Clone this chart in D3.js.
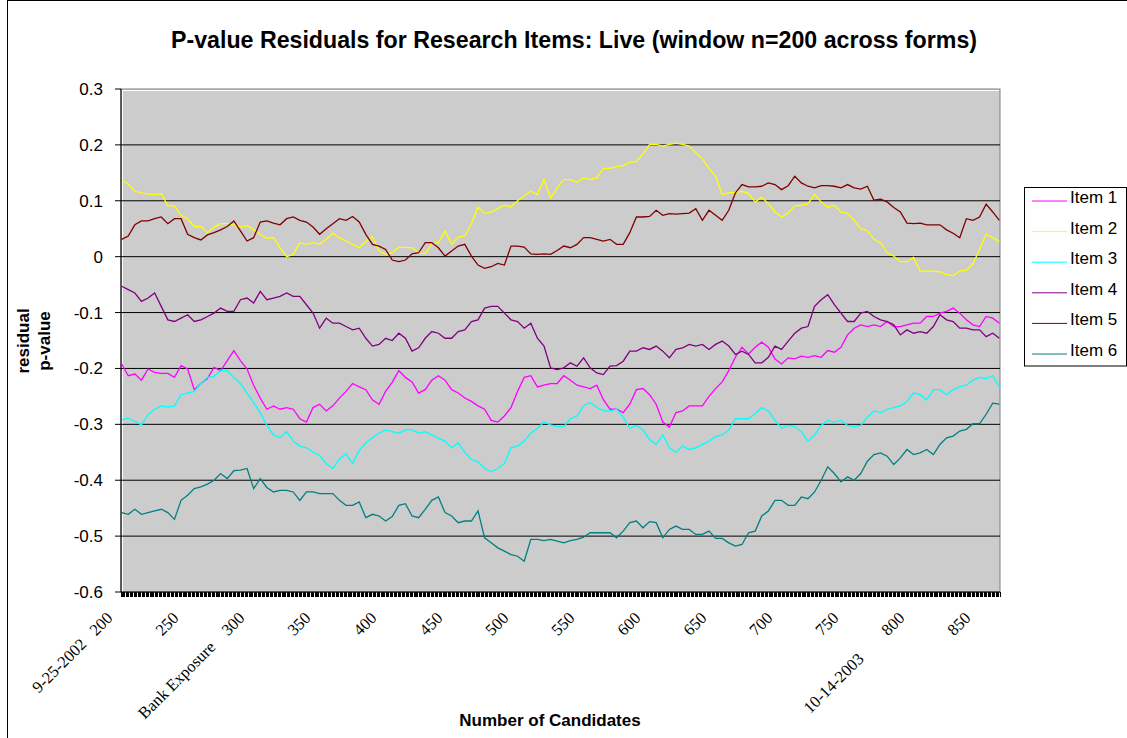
<!DOCTYPE html>
<html>
<head>
<meta charset="utf-8">
<script src="https://cdn.jsdelivr.net/npm/d3@7"></script>
<style>
  html, body { margin: 0; padding: 0; background: #ffffff; }
  svg { display: block; }
  .sans { font-family: "Liberation Sans", Arial, sans-serif; }
  .serif { font-family: "Liberation Serif", "Times New Roman", serif; }
</style>
</head>
<body>
<svg id="chart" width="1127" height="738"></svg>
<script>
// Sampled candidate counts (every 5th candidate of the moving window)
const candidates = [
  200,205,210,215,220,225,230,235,240,245,250,255,260,265,270,275,280,285,290,295,
  300,305,310,315,320,325,330,335,340,345,350,355,360,365,370,375,380,385,390,395,
  400,405,410,415,420,425,430,435,440,445,450,455,460,465,470,475,480,485,490,495,
  500,505,510,515,520,525,530,535,540,545,550,555,560,565,570,575,580,585,590,595,
  600,605,610,615,620,625,630,635,640,645,650,655,660,665,670,675,680,685,690,695,
  700,705,710,715,720,725,730,735,740,745,750,755,760,765,770,775,780,785,790,795,
  800,805,810,815,820,825,830,835,840,845,850,855,860,865
];

// Residual p-values per item
const item1 = [
  -0.192,-0.213,-0.210,-0.221,-0.201,-0.207,-0.209,-0.209,-0.216,-0.195,-0.201,-0.238,-0.227,-0.218,-0.198,-0.204,-0.186,-0.168,-0.186,-0.201,
  -0.230,-0.253,-0.273,-0.267,-0.273,-0.270,-0.273,-0.290,-0.296,-0.270,-0.264,-0.276,-0.267,-0.253,-0.241,-0.227,-0.233,-0.238,-0.256,-0.264,
  -0.241,-0.225,-0.204,-0.216,-0.224,-0.244,-0.238,-0.221,-0.213,-0.221,-0.238,-0.244,-0.253,-0.259,-0.267,-0.273,-0.293,-0.296,-0.285,-0.270,
  -0.241,-0.216,-0.213,-0.233,-0.230,-0.227,-0.227,-0.213,-0.221,-0.230,-0.233,-0.236,-0.230,-0.256,-0.273,-0.273,-0.279,-0.264,-0.238,-0.236,
  -0.247,-0.264,-0.296,-0.305,-0.279,-0.276,-0.267,-0.267,-0.267,-0.250,-0.236,-0.224,-0.204,-0.180,-0.162,-0.174,-0.162,-0.153,-0.162,-0.183,
  -0.192,-0.181,-0.183,-0.178,-0.180,-0.177,-0.180,-0.168,-0.171,-0.162,-0.140,-0.128,-0.122,-0.125,-0.122,-0.125,-0.116,-0.125,-0.125,-0.122,
  -0.119,-0.119,-0.107,-0.107,-0.101,-0.098,-0.092,-0.101,-0.113,-0.122,-0.125,-0.107,-0.110,-0.119
];
const item2 = [
  0.138,0.129,0.117,0.114,0.112,0.111,0.113,0.091,0.091,0.074,0.068,0.054,0.054,0.043,0.053,0.059,0.059,0.057,0.053,0.056,
  0.048,0.040,0.033,0.034,0.016,0.000,0.004,0.025,0.022,0.025,0.022,0.031,0.042,0.034,0.028,0.022,0.016,0.027,0.036,0.010,
  0.004,0.007,0.017,0.016,0.016,0.007,0.005,0.023,0.025,0.046,0.022,0.035,0.037,0.059,0.089,0.077,0.080,0.086,0.092,0.089,
  0.100,0.109,0.117,0.111,0.138,0.105,0.123,0.138,0.138,0.133,0.141,0.138,0.141,0.158,0.158,0.161,0.163,0.169,0.170,0.184,
  0.201,0.201,0.198,0.201,0.203,0.201,0.198,0.186,0.175,0.158,0.144,0.111,0.114,0.115,0.117,0.113,0.098,0.106,0.095,0.080,
  0.071,0.078,0.091,0.092,0.095,0.111,0.098,0.088,0.092,0.080,0.077,0.065,0.050,0.046,0.031,0.025,0.007,0.001,-0.009,-0.009,
  -0.001,-0.026,-0.026,-0.026,-0.027,-0.032,-0.034,-0.026,-0.024,-0.013,0.013,0.040,0.034,0.027
];
const item3 = [
  -0.292,-0.289,-0.295,-0.301,-0.283,-0.273,-0.267,-0.269,-0.267,-0.247,-0.244,-0.241,-0.227,-0.216,-0.214,-0.204,-0.204,-0.216,-0.227,-0.244,
  -0.261,-0.279,-0.302,-0.319,-0.324,-0.313,-0.330,-0.339,-0.342,-0.350,-0.356,-0.370,-0.379,-0.362,-0.353,-0.370,-0.347,-0.333,-0.324,-0.316,
  -0.310,-0.313,-0.316,-0.310,-0.310,-0.316,-0.313,-0.319,-0.325,-0.330,-0.342,-0.333,-0.350,-0.363,-0.367,-0.379,-0.385,-0.379,-0.370,-0.342,
  -0.339,-0.330,-0.316,-0.307,-0.296,-0.301,-0.304,-0.304,-0.290,-0.285,-0.267,-0.261,-0.270,-0.276,-0.276,-0.273,-0.287,-0.307,-0.302,-0.310,
  -0.327,-0.336,-0.319,-0.342,-0.350,-0.339,-0.345,-0.342,-0.336,-0.330,-0.322,-0.319,-0.310,-0.290,-0.290,-0.290,-0.281,-0.270,-0.276,-0.293,
  -0.307,-0.302,-0.304,-0.313,-0.330,-0.319,-0.302,-0.293,-0.296,-0.293,-0.302,-0.304,-0.302,-0.287,-0.276,-0.279,-0.273,-0.270,-0.267,-0.259,
  -0.244,-0.247,-0.256,-0.238,-0.238,-0.247,-0.238,-0.233,-0.230,-0.221,-0.216,-0.218,-0.213,-0.233
];
const item4 = [
  -0.053,-0.059,-0.065,-0.080,-0.074,-0.065,-0.089,-0.113,-0.116,-0.110,-0.104,-0.116,-0.113,-0.107,-0.101,-0.092,-0.098,-0.098,-0.077,-0.074,
  -0.083,-0.062,-0.077,-0.074,-0.071,-0.065,-0.071,-0.071,-0.086,-0.101,-0.128,-0.110,-0.119,-0.119,-0.125,-0.131,-0.128,-0.146,-0.160,-0.157,
  -0.146,-0.150,-0.137,-0.146,-0.169,-0.163,-0.146,-0.134,-0.137,-0.146,-0.146,-0.134,-0.131,-0.116,-0.113,-0.092,-0.089,-0.089,-0.101,-0.113,
  -0.116,-0.128,-0.119,-0.146,-0.160,-0.199,-0.202,-0.199,-0.190,-0.196,-0.181,-0.199,-0.208,-0.211,-0.196,-0.195,-0.187,-0.169,-0.169,-0.163,
  -0.166,-0.160,-0.169,-0.181,-0.166,-0.163,-0.157,-0.160,-0.157,-0.166,-0.157,-0.151,-0.160,-0.175,-0.169,-0.175,-0.190,-0.190,-0.180,-0.160,
  -0.166,-0.151,-0.137,-0.128,-0.125,-0.089,-0.077,-0.068,-0.086,-0.101,-0.116,-0.116,-0.101,-0.098,-0.107,-0.113,-0.116,-0.122,-0.140,-0.131,
  -0.137,-0.134,-0.137,-0.125,-0.104,-0.113,-0.116,-0.128,-0.128,-0.131,-0.131,-0.143,-0.137,-0.146
];
const item5 = [
  0.031,0.037,0.057,0.064,0.064,0.068,0.071,0.059,0.068,0.068,0.040,0.034,0.030,0.039,0.043,0.048,0.054,0.064,0.046,0.028,
  0.034,0.062,0.064,0.060,0.057,0.068,0.071,0.065,0.062,0.053,0.040,0.050,0.059,0.068,0.065,0.072,0.062,0.040,0.022,0.019,
  0.013,-0.006,-0.009,-0.006,0.005,0.007,0.025,0.025,0.016,0.001,0.010,0.019,0.022,0.001,-0.015,-0.021,-0.018,-0.012,-0.015,0.019,
  0.019,0.017,0.005,0.004,0.005,0.004,0.011,0.019,0.016,0.022,0.034,0.034,0.031,0.028,0.031,0.022,0.022,0.043,0.071,0.071,
  0.072,0.083,0.074,0.077,0.076,0.077,0.078,0.086,0.065,0.083,0.074,0.065,0.083,0.114,0.129,0.125,0.125,0.126,0.132,0.129,
  0.120,0.127,0.144,0.132,0.126,0.123,0.127,0.127,0.126,0.123,0.129,0.123,0.121,0.126,0.101,0.103,0.098,0.088,0.080,0.060,
  0.059,0.060,0.057,0.057,0.057,0.048,0.042,0.034,0.068,0.065,0.071,0.094,0.080,0.065
];
const item6 = [
  -0.458,-0.461,-0.452,-0.461,-0.458,-0.455,-0.452,-0.458,-0.470,-0.436,-0.427,-0.415,-0.412,-0.407,-0.400,-0.388,-0.397,-0.383,-0.382,-0.379,
  -0.415,-0.397,-0.413,-0.421,-0.418,-0.418,-0.421,-0.436,-0.421,-0.421,-0.424,-0.424,-0.424,-0.436,-0.445,-0.445,-0.439,-0.467,-0.461,-0.464,
  -0.473,-0.465,-0.445,-0.442,-0.464,-0.467,-0.452,-0.436,-0.430,-0.458,-0.464,-0.476,-0.473,-0.473,-0.455,-0.503,-0.512,-0.521,-0.527,-0.533,
  -0.536,-0.545,-0.506,-0.506,-0.508,-0.506,-0.509,-0.512,-0.508,-0.506,-0.502,-0.494,-0.494,-0.494,-0.494,-0.503,-0.491,-0.476,-0.473,-0.485,
  -0.474,-0.476,-0.503,-0.488,-0.482,-0.488,-0.488,-0.497,-0.497,-0.491,-0.504,-0.504,-0.512,-0.518,-0.515,-0.494,-0.491,-0.464,-0.455,-0.436,
  -0.436,-0.445,-0.445,-0.430,-0.433,-0.421,-0.400,-0.376,-0.388,-0.403,-0.394,-0.400,-0.388,-0.366,-0.354,-0.351,-0.357,-0.372,-0.360,-0.345,
  -0.354,-0.351,-0.345,-0.354,-0.336,-0.324,-0.321,-0.312,-0.309,-0.299,-0.299,-0.282,-0.262,-0.264
];

const seriesNames = ["Item 1", "Item 2", "Item 3", "Item 4", "Item 5", "Item 6"];
const seriesValues = [item1, item2, item3, item4, item5, item6];
const seriesColors = ["#FF00FF", "#FFFF00", "#00FFFF", "#800080", "#800000", "#008080"];

const yTickValues = [0.3, 0.2, 0.1, 0, -0.1, -0.2, -0.3, -0.4, -0.5, -0.6];
const yTickLabels = ["0.3", "0.2", "0.1", "0", "-0.1", "-0.2", "-0.3", "-0.4", "-0.5", "-0.6"];

const xLabelValues = [200, 250, 300, 350, 400, 450, 500, 550, 600, 650, 700, 750, 800, 850];
const xLabelTexts = [
  "9-25-2002   200", "250", "Bank Exposure    300", "350", "400", "450", "500",
  "550", "600", "650", "700", "750", "10-14-2003        800", "850"
];

const firstCandidate = 200, lastCandidate = 865;

const svg = d3.select("#chart");
const W = 1127, H = 738;
const plot = { left: 121, right: 1000, top: 89, bottom: 592 };

const x = d3.scaleLinear()
  .domain([firstCandidate - 0.5, lastCandidate + 0.5])
  .range([plot.left, plot.right]);
const y = d3.scaleLinear()
  .domain([-0.6, 0.3])
  .range([plot.bottom, plot.top]);

// Outer chart frame
svg.append("rect")
  .attr("x", 7.5).attr("y", 0.5)
  .attr("width", W + 20).attr("height", H + 20)
  .attr("fill", "#ffffff").attr("stroke", "#000").attr("stroke-width", 1);

// Plot area background
svg.append("rect")
  .attr("x", plot.left).attr("y", plot.top)
  .attr("width", plot.right - plot.left).attr("height", plot.bottom - plot.top)
  .attr("fill", "#cccccc").attr("stroke", "#808080").attr("stroke-width", 1);
svg.append("path")
  .attr("d", `M${plot.left + 1.5},${plot.bottom}V${plot.top + 1.5}H${plot.right - 1}`)
  .attr("fill", "none").attr("stroke", "#ffffff").attr("stroke-width", 1);

// Horizontal gridlines
svg.append("g")
  .selectAll("line")
  .data(yTickValues.filter(v => v < 0.3 && v > -0.6))
  .join("line")
  .attr("x1", plot.left).attr("x2", plot.right)
  .attr("y1", d => y(d)).attr("y2", d => y(d))
  .attr("stroke", "#000").attr("stroke-width", 1);

// Series lines
const line = d3.line()
  .x((d, i) => x(candidates[i]))
  .y(d => y(d));
svg.append("g")
  .selectAll("path")
  .data(seriesValues)
  .join("path")
  .attr("d", d => line(d))
  .attr("fill", "none")
  .attr("stroke", (d, i) => seriesColors[i])
  .attr("stroke-width", 1.3)
  .attr("stroke-linejoin", "miter");

// Y axis
const yAxis = svg.append("g");
yAxis.append("line")
  .attr("x1", plot.left).attr("x2", plot.left)
  .attr("y1", plot.top).attr("y2", plot.bottom)
  .attr("stroke", "#000");
yAxis.selectAll("line.tick")
  .data(yTickValues)
  .join("line").attr("class", "tick")
  .attr("x1", plot.left - 6).attr("x2", plot.left)
  .attr("y1", d => y(d)).attr("y2", d => y(d))
  .attr("stroke", "#000");
yAxis.selectAll("text")
  .data(yTickValues)
  .join("text")
  .attr("class", "sans")
  .attr("x", 103)
  .attr("y", d => y(d))
  .attr("dy", "0.35em")
  .attr("text-anchor", "end")
  .attr("font-size", 17)
  .attr("fill", "#000")
  .text((d, i) => yTickLabels[i]);

// X axis with a tick between every candidate
const xAxis = svg.append("g");
xAxis.append("line")
  .attr("x1", plot.left).attr("x2", plot.right)
  .attr("y1", plot.bottom).attr("y2", plot.bottom)
  .attr("stroke", "#000");
xAxis.append("g")
  .attr("shape-rendering", "crispEdges")
  .selectAll("line")
  .data(d3.range(firstCandidate - 0.5, lastCandidate + 1, 1))
  .join("line")
  .attr("x1", d => x(d)).attr("x2", d => x(d))
  .attr("y1", plot.bottom).attr("y2", plot.bottom + 5)
  .attr("stroke", "#000");
xAxis.selectAll("text")
  .data(xLabelValues)
  .join("text")
  .attr("class", "serif")
  .attr("transform", d => `translate(${x(d) - 8},619) rotate(-45)`)
  .attr("text-anchor", "end")
  .attr("font-size", 16.5)
  .attr("fill", "#000")
  .style("white-space", "pre")
  .text((d, i) => xLabelTexts[i]);

// Titles
svg.append("text")
  .attr("class", "sans")
  .attr("x", 574).attr("y", 48)
  .attr("text-anchor", "middle")
  .attr("font-size", 23.2).attr("font-weight", "bold")
  .text("P-value Residuals for Research Items: Live (window n=200 across forms)");
svg.append("text")
  .attr("class", "sans")
  .attr("x", 550).attr("y", 726)
  .attr("text-anchor", "middle")
  .attr("font-size", 17).attr("font-weight", "bold")
  .text("Number of Candidates");
[["residual", 29], ["p-value", 50]].forEach(([t, bx]) => {
  svg.append("text")
    .attr("class", "sans")
    .attr("transform", `translate(${bx},341) rotate(-90)`)
    .attr("text-anchor", "middle")
    .attr("font-size", 17).attr("font-weight", "bold")
    .text(t);
});

// Legend
const legend = svg.append("g");
legend.append("rect")
  .attr("x", 1024.5).attr("y", 187.5)
  .attr("width", 102).attr("height", 178.5)
  .attr("fill", "#ffffff").attr("stroke", "#000");
const entries = legend.selectAll("g.entry")
  .data(seriesNames)
  .join("g").attr("class", "entry")
  .attr("transform", (d, i) => `translate(0,${197 + i * 30.6})`);
entries.append("line")
  .attr("x1", 1032).attr("x2", 1067)
  .attr("y1", 4).attr("y2", 4)
  .attr("stroke", (d, i) => seriesColors[i]).attr("stroke-width", 1);
entries.append("text")
  .attr("class", "sans")
  .attr("x", 1070).attr("y", 0)
  .attr("dy", "0.35em")
  .attr("font-size", 17)
  .text(d => d);
</script>
</body>
</html>
